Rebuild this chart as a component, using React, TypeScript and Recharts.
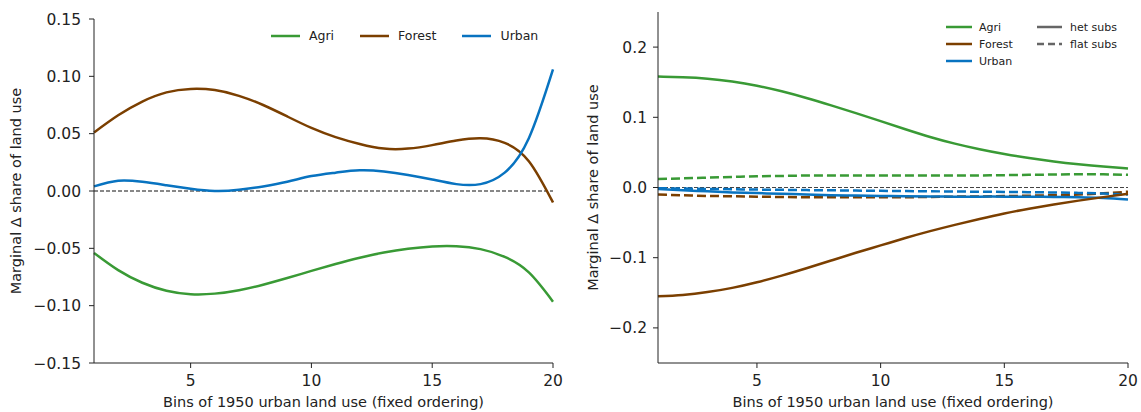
import { LineChart, Line, XAxis, YAxis, ReferenceLine } from "recharts";

// bins of 1950 urban land use
const bins = [1, 2, 3, 4, 5, 6, 7, 8, 9, 10, 11, 12, 13, 14, 15, 16, 17, 18, 19, 20];

// left panel: fixed ordering
const agriLeft = [-0.054, -0.069, -0.08, -0.087, -0.09, -0.0895, -0.0865, -0.0817, -0.0759, -0.0697, -0.0637, -0.0582, -0.0537, -0.0504, -0.0484, -0.0482, -0.0507, -0.0575, -0.071, -0.0965];
const forestLeft = [0.051, 0.066, 0.078, 0.086, 0.089, 0.088, 0.083, 0.075, 0.065, 0.055, 0.047, 0.041, 0.037, 0.037, 0.04, 0.044, 0.046, 0.042, 0.026, -0.01];
const urbanLeft = [0.004, 0.009, 0.008, 0.005, 0.002, 0.0, 0.001, 0.004, 0.008, 0.013, 0.016, 0.018, 0.017, 0.014, 0.01, 0.006, 0.006, 0.016, 0.046, 0.106];

// right panel: het subs vs flat subs
const agriHet = [0.158, 0.157, 0.155, 0.151, 0.145, 0.137, 0.1275, 0.117, 0.106, 0.0945, 0.083, 0.072, 0.0625, 0.0545, 0.0477, 0.042, 0.0372, 0.0332, 0.0298, 0.027];
const forestHet = [-0.155, -0.153, -0.149, -0.143, -0.135, -0.1255, -0.115, -0.104, -0.093, -0.0825, -0.072, -0.0622, -0.0532, -0.0448, -0.037, -0.0302, -0.0242, -0.0187, -0.0137, -0.009];
const urbanHet = [-0.002, -0.004, -0.0055, -0.007, -0.008, -0.009, -0.01, -0.011, -0.0115, -0.012, -0.0125, -0.0128, -0.013, -0.013, -0.013, -0.0132, -0.0135, -0.014, -0.015, -0.017];
const agriFlat = [0.012, 0.013, 0.014, 0.015, 0.016, 0.0165, 0.017, 0.017, 0.017, 0.017, 0.017, 0.017, 0.017, 0.0172, 0.0176, 0.018, 0.0185, 0.019, 0.0188, 0.018];
const forestFlat = [-0.01, -0.011, -0.012, -0.0125, -0.013, -0.0135, -0.014, -0.014, -0.014, -0.014, -0.0138, -0.0135, -0.013, -0.0127, -0.0122, -0.0117, -0.011, -0.01, -0.0083, -0.006];
const urbanFlat = [-0.001, -0.0015, -0.002, -0.0025, -0.003, -0.0033, -0.0037, -0.004, -0.0044, -0.0048, -0.0051, -0.0054, -0.0057, -0.006, -0.0063, -0.0067, -0.0071, -0.0077, -0.0086, -0.01];

const leftTicks = [-0.15, -0.1, -0.05, 0, 0.05, 0.1, 0.15];
const rightTicks = [-0.2, -0.1, 0, 0.1, 0.2];
const xTicks = [5, 10, 15, 20];

const xLabel = "Bins of 1950 urban land use (fixed ordering)";
const yLabel = "Marginal Δ share of land use";

const GREEN = "#399a35";
const BROWN = "#7b3f00";
const BLUE = "#0873c0";
const AXIS = "#222";
const FONT = "'DejaVu Sans', sans-serif";

const leftData = bins.map((b, i) => ({
  bin: b,
  agri: agriLeft[i],
  forest: forestLeft[i],
  urban: urbanLeft[i],
}));

const rightData = bins.map((b, i) => ({
  bin: b,
  agriHet: agriHet[i],
  forestHet: forestHet[i],
  urbanHet: urbanHet[i],
  agriFlat: agriFlat[i],
  forestFlat: forestFlat[i],
  urbanFlat: urbanFlat[i],
}));

const fmt = (digits: number) => (v: number) => {
  const s = Math.abs(v) < 1e-9 ? (0).toFixed(digits) : v.toFixed(digits);
  return s.replace("-", "\u2212");
};

const Swatch = ({ color, dash, width }: { color: string; dash?: string; width: number }) => (
  <svg width={width} height={6} style={{ display: "block" }}>
    <line x1={0} y1={3} x2={width} y2={3} stroke={color} strokeWidth={2.5} strokeDasharray={dash} />
  </svg>
);

const LeftLegend = () => {
  const items = [
    { label: "Agri", color: GREEN },
    { label: "Forest", color: BROWN },
    { label: "Urban", color: BLUE },
  ];
  return (
    <div style={{ position: "absolute", left: 271, top: 28, display: "flex", fontFamily: FONT, fontSize: 12.5, color: AXIS, lineHeight: "16px" }}>
      {items.map((it) => (
        <div key={it.label} style={{ display: "flex", alignItems: "center", marginRight: 26 }}>
          <Swatch color={it.color} width={29} />
          <span style={{ marginLeft: 9 }}>{it.label}</span>
        </div>
      ))}
    </div>
  );
};

const RightLegend = () => {
  const col1 = [
    { label: "Agri", color: GREEN },
    { label: "Forest", color: BROWN },
    { label: "Urban", color: BLUE },
  ];
  const col2 = [
    { label: "het subs", color: "#666", dash: undefined },
    { label: "flat subs", color: "#666", dash: "7 4" },
  ];
  const row = { display: "flex", alignItems: "center", height: 17 } as const;
  return (
    <div style={{ position: "absolute", left: 946, top: 18.5, display: "flex", fontFamily: FONT, fontSize: 11, color: AXIS, lineHeight: "17px" }}>
      <div style={{ width: 91 }}>
        {col1.map((it) => (
          <div key={it.label} style={row}>
            <Swatch color={it.color} width={26} />
            <span style={{ marginLeft: 7 }}>{it.label}</span>
          </div>
        ))}
      </div>
      <div>
        {col2.map((it) => (
          <div key={it.label} style={row}>
            <Swatch color={it.color} dash={it.dash} width={25} />
            <span style={{ marginLeft: 8 }}>{it.label}</span>
          </div>
        ))}
      </div>
    </div>
  );
};

const tickStyle = { fill: AXIS, fontSize: 15.5, fontFamily: FONT };
const labelStyle = { fill: AXIS, fontSize: 14.5, fontFamily: FONT };

export default function App() {
  return (
    <div style={{ position: "absolute", left: 0, top: 0, width: 1141, height: 412, background: "#fff" }}>
      <div style={{ position: "absolute", left: 0, top: 0 }}>
        <LineChart width={570} height={412} data={leftData} margin={{ top: 19, right: 17, bottom: 0, left: 0 }}>
          <XAxis
            dataKey="bin"
            type="number"
            domain={[1, 20]}
            ticks={xTicks}
            tickSize={5}
            tickMargin={7}
            stroke={AXIS}
            tick={tickStyle}
            height={49}
            label={{ value: xLabel, position: "insideBottom", offset: 5, style: labelStyle }}
          />
          <YAxis
            type="number"
            domain={[-0.15, 0.15]}
            ticks={leftTicks}
            tickFormatter={fmt(2)}
            tickSize={5}
            tickMargin={8}
            stroke={AXIS}
            tick={tickStyle}
            width={94}
            label={{ value: yLabel, angle: -90, position: "insideLeft", offset: 16, style: { ...labelStyle, textAnchor: "middle" } }}
          />
          <ReferenceLine y={0} stroke="#111" strokeWidth={1} strokeDasharray="4 2" />
          <Line type="natural" dataKey="agri" stroke={GREEN} strokeWidth={2.5} dot={false} isAnimationActive={false} />
          <Line type="natural" dataKey="forest" stroke={BROWN} strokeWidth={2.5} dot={false} isAnimationActive={false} />
          <Line type="natural" dataKey="urban" stroke={BLUE} strokeWidth={2.5} dot={false} isAnimationActive={false} />
        </LineChart>
      </div>
      <div style={{ position: "absolute", left: 570, top: 0 }}>
        <LineChart width={571} height={412} data={rightData} margin={{ top: 12, right: 13, bottom: 0, left: 0 }}>
          <XAxis
            dataKey="bin"
            type="number"
            domain={[1, 20]}
            ticks={xTicks}
            tickSize={5}
            tickMargin={7}
            stroke={AXIS}
            tick={tickStyle}
            height={49}
            label={{ value: xLabel, position: "insideBottom", offset: 5, style: labelStyle }}
          />
          <YAxis
            type="number"
            domain={[-0.25, 0.25]}
            ticks={rightTicks}
            tickFormatter={fmt(1)}
            tickSize={5}
            tickMargin={6}
            stroke={AXIS}
            tick={tickStyle}
            width={88}
            label={{ value: yLabel, angle: -90, position: "insideLeft", offset: 23, style: { ...labelStyle, textAnchor: "middle" } }}
          />
          <ReferenceLine y={0} stroke="#444" strokeWidth={1.2} strokeDasharray="4 2" />
          <Line type="natural" dataKey="agriFlat" stroke={GREEN} strokeWidth={2.5} strokeDasharray="9 4" dot={false} isAnimationActive={false} />
          <Line type="natural" dataKey="forestFlat" stroke={BROWN} strokeWidth={2.5} strokeDasharray="9 4" dot={false} isAnimationActive={false} />
          <Line type="natural" dataKey="urbanFlat" stroke={BLUE} strokeWidth={2.5} strokeDasharray="9 4" dot={false} isAnimationActive={false} />
          <Line type="natural" dataKey="agriHet" stroke={GREEN} strokeWidth={2.5} dot={false} isAnimationActive={false} />
          <Line type="natural" dataKey="urbanHet" stroke={BLUE} strokeWidth={2.5} dot={false} isAnimationActive={false} />
          <Line type="natural" dataKey="forestHet" stroke={BROWN} strokeWidth={2.5} dot={false} isAnimationActive={false} />
        </LineChart>
      </div>
      <LeftLegend />
      <RightLegend />
    </div>
  );
}
